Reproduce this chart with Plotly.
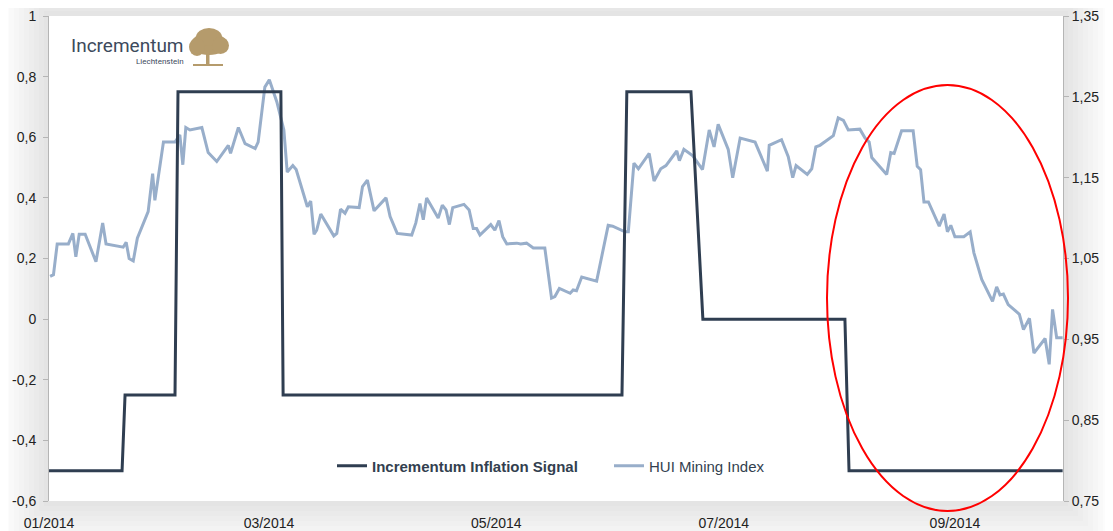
import pandas as pd
import plotly.graph_objects as go

# ---------------- data ----------------
START = "2014-01-01"
END_DAY = 272

signal_days = [0, 19.6, 20.4, 33.8, 34.6, 62.2, 62.8, 153.7, 155.0, 172.2, 175.4, 213.5, 214.6, 271.9]
signal_vals = [-0.5, -0.5, -0.25, -0.25, 0.75, 0.75, -0.25, -0.25, 0.75, 0.75, 0.0, 0.0, -0.5, -0.5]

hui_days = [0.3, 1.2, 2.2, 5.2, 6.4, 7.2, 8.1, 9.7, 12.6, 14.4, 15.3, 19.9, 20.7, 21.5, 22.6, 23.7,
            26.6, 27.8, 28.4, 30.7, 33.8, 35.1, 35.9, 36.7, 37.8, 41.0, 42.7, 45.0, 48.1, 48.7,
            50.8, 52.6, 55.3, 56.1, 57.9, 59.1, 61.1, 63.0, 63.9, 65.4, 66.3, 69.3, 70.2, 71.1,
            71.8, 72.9, 76.4, 77.2, 78.2, 79.4, 80.3, 83.2, 84.1, 85.4, 87.2, 90.4, 91.5, 93.4,
            97.3, 98.4, 99.5, 100.4, 101.3, 104.4, 105.5, 106.5, 107.4, 108.3, 111.3, 112.7,
            113.8, 114.7, 115.6, 118.5, 119.6, 120.7, 121.7, 122.8, 125.5, 126.5, 128.1, 129.9,
            133.0, 134.8, 135.7, 136.9, 139.8, 140.6, 141.5, 142.9, 146.9, 150.0, 151.2, 154.5,
            155.4, 156.9, 158.1, 161.0, 162.3, 164.1, 165.5, 168.4, 169.1, 170.3, 172.7, 175.3,
            177.1, 178.4, 179.5, 182.2, 183.4, 185.4, 189.4, 190.7, 192.7, 193.2, 196.5, 198.3,
            199.5, 200.4, 203.4, 204.6, 205.7, 206.8, 210.4, 211.7, 213.1, 214.4, 217.5, 218.9,
            220.0, 220.7, 224.7, 225.8, 226.7, 228.7, 231.8, 232.9, 233.8, 234.7, 235.9, 238.8,
            240.1, 241.0, 241.9, 243.0, 245.4, 247.1, 248.1, 250.2, 253.1, 254.2, 255.1, 256.0,
            257.3, 260.3, 261.4, 263.0, 264.2, 267.2, 268.3, 269.2, 270.3, 271.9]
hui_vals = [1.028, 1.030, 1.068, 1.068, 1.081, 1.052, 1.080, 1.080, 1.046, 1.094, 1.068, 1.064,
            1.070, 1.050, 1.047, 1.075, 1.108, 1.155, 1.122, 1.194, 1.194, 1.203, 1.166, 1.212,
            1.209, 1.212, 1.181, 1.170, 1.190, 1.180, 1.212, 1.192, 1.186, 1.194, 1.262, 1.271,
            1.244, 1.209, 1.157, 1.165, 1.160, 1.114, 1.121, 1.080, 1.085, 1.105, 1.078, 1.081,
            1.111, 1.106, 1.114, 1.113, 1.139, 1.147, 1.109, 1.125, 1.102, 1.081, 1.079, 1.094,
            1.118, 1.098, 1.125, 1.100, 1.116, 1.110, 1.092, 1.113, 1.117, 1.110, 1.087, 1.087,
            1.079, 1.092, 1.085, 1.097, 1.077, 1.068, 1.069, 1.068, 1.069, 1.063, 1.063, 1.001,
            1.003, 1.013, 1.007, 1.011, 1.010, 1.027, 1.022, 1.091, 1.090, 1.083, 1.083, 1.168,
            1.161, 1.180, 1.146, 1.161, 1.165, 1.183, 1.171, 1.185, 1.177, 1.160, 1.209, 1.188,
            1.216, 1.185, 1.150, 1.199, 1.194, 1.180, 1.158, 1.190, 1.197, 1.176, 1.150, 1.165,
            1.154, 1.161, 1.188, 1.190, 1.202, 1.224, 1.221, 1.209, 1.210, 1.199, 1.194, 1.175,
            1.154, 1.181, 1.180, 1.208, 1.208, 1.164, 1.160, 1.120, 1.120, 1.090, 1.105, 1.083,
            1.091, 1.077, 1.077, 1.083, 1.057, 1.024, 0.997, 1.015, 1.005, 1.006, 0.993, 0.981,
            0.962, 0.976, 0.933, 0.951, 0.919, 0.987, 0.952, 0.952]

left_ticks = [-0.6, -0.4, -0.2, 0, 0.2, 0.4, 0.6, 0.8, 1]
left_labels = ["-0,6", "-0,4", "-0,2", "0", "0,2", "0,4", "0,6", "0,8", "1"]
right_ticks = [0.75, 0.85, 0.95, 1.05, 1.15, 1.25, 1.35]
right_labels = ["0,75", "0,85", "0,95", "1,05", "1,15", "1,25", "1,35"]

# ---------------- figure ----------------
start = pd.Timestamp(START)
sig_x = start + pd.to_timedelta(signal_days, unit="D")
hui_x = start + pd.to_timedelta(hui_days, unit="D")

OFF = 8  # default page body margin
W, H = 1105, 523
ML, MT, PW, PH = 41, 8, 1014, 485
MR, MB = W - ML - PW, H - MT - PH


def px(x):  # screen pixel -> paper
    return (x - OFF - ML) / PW


def py(y):
    return (MT + PH - (y - OFF)) / PH


fig = go.Figure()
fig.add_trace(go.Scatter(x=hui_x, y=hui_vals, yaxis="y", mode="lines",
                         name="HUI Mining Index",
                         line=dict(color="#98aeca", width=3), legendrank=2))
fig.add_trace(go.Scatter(x=sig_x, y=signal_vals, yaxis="y2", mode="lines",
                         name="<b>Incrementum Inflation Signal</b>",
                         line=dict(color="#2f3e51", width=3), legendrank=1))

shapes = []
# soft grey shadow around the plot area
for i in range(9):
    e = (i + 1) * 5
    x0, x1 = px(49 - e), px(1063 + e)
    y0, y1 = py(501 + e), py(16 - e)
    path = (f"M {x0},{y0} L {x1},{y0} L {x1},{y1} L {x0},{y1} Z "
            f"M 0,0 L 0,1 L 1,1 L 1,0 Z")
    shapes.append(dict(type="path", xref="paper", yref="paper", path=path,
                       fillcolor="rgba(0,0,0,0.011)", line=dict(width=0), layer="below"))
# red ellipse
shapes.append(dict(type="circle", xref="paper", yref="paper",
                   x0=px(827), x1=px(1068), y0=py(511), y1=py(85),
                   line=dict(color="#ff0000", width=2)))
# tree logo
gold = "#b59b6c"
for cx0, cy0, cx1, cy1 in [(191, 33, 227, 55), (196, 28, 222, 46), (189, 38, 205, 56),
                           (212, 37, 229, 54)]:
    shapes.append(dict(type="circle", xref="paper", yref="paper",
                       x0=px(cx0), x1=px(cx1), y0=py(cy1), y1=py(cy0),
                       fillcolor=gold, line=dict(width=0)))
shapes.append(dict(type="rect", xref="paper", yref="paper",
                   x0=px(206), x1=px(209.5), y0=py(64), y1=py(52),
                   fillcolor=gold, line=dict(width=0)))
shapes.append(dict(type="rect", xref="paper", yref="paper",
                   x0=px(193), x1=px(223), y0=py(66), y1=py(64),
                   fillcolor=gold, line=dict(width=0)))
fig.update_layout(shapes=shapes)

fig.add_annotation(xref="paper", yref="paper", x=px(186), y=py(45), xanchor="right",
                   yanchor="middle", showarrow=False, text="Incrementum",
                   font=dict(family="Roboto", size=19, color="#3d4a5c"))
fig.add_annotation(xref="paper", yref="paper", x=px(186), y=py(61), xanchor="right",
                   yanchor="middle", showarrow=False, text="Liechtenstein",
                   font=dict(family="Roboto", size=8, color="#3d4a5c"))

fig.update_layout(
    width=W, height=H,
    margin=dict(l=ML, r=MR, t=MT, b=MB, autoexpand=False),
    paper_bgcolor="white", plot_bgcolor="white",
    font=dict(family="Liberation Sans, Arial, sans-serif", size=14, color="#222222"),
    showlegend=True,
    legend=dict(orientation="h", x=px(332), xanchor="left", y=py(466), yanchor="middle",
                font=dict(size=15, color="#333f4f"), bgcolor="rgba(0,0,0,0)",
                traceorder="normal", entrywidth=232, entrywidthmode="pixels"),
    xaxis=dict(type="date", range=[start, start + pd.Timedelta(days=END_DAY)],
               tick0=START, dtick="M2", tickformat="%m/%Y", showgrid=False,
               showline=False, ticks="outside", ticklen=9, tickcolor="rgba(0,0,0,0)",
               zeroline=False, tickfont=dict(size=14), ticklabeloverflow="allow"),
    yaxis=dict(side="right", range=[0.75, 1.35], tickvals=right_ticks, ticktext=right_labels,
               showgrid=False, zeroline=False, showline=True, linecolor="#b5b5b5",
               linewidth=1, ticks="outside", ticklen=5, tickcolor="#b5b5b5",
               ticklabeloverflow="allow"),
    yaxis2=dict(side="left", overlaying="y", range=[-0.6, 1], tickvals=left_ticks,
                ticktext=left_labels, showgrid=False, zeroline=False, showline=True,
                linecolor="#b5b5b5", linewidth=1, ticks="outside", ticklen=5,
                tickcolor="#b5b5b5", ticklabelstandoff=4, ticklabeloverflow="allow"),
)

fig.write_html("out.html")
